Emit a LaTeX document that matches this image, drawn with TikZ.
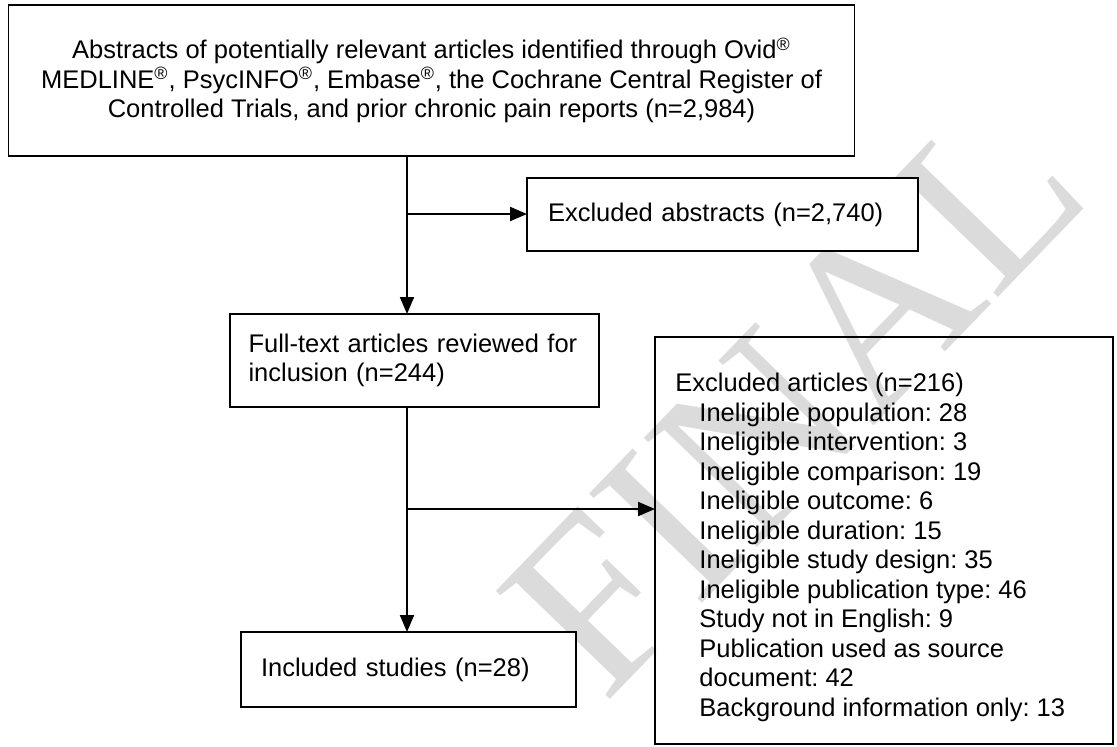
\documentclass[tikz,border=0pt]{standalone}
\usepackage{fontspec}
\setmainfont{Liberation Sans}
\newfontfamily\wmfont{Liberation Serif}
\usetikzlibrary{arrows.meta}
\frenchspacing
\begin{document}
\begin{tikzpicture}[x=0.5pt,y=-0.5pt,
  box/.style={draw=black,line width=0.9pt,fill=white,outer sep=0pt,inner ysep=0pt,
    font=\fontsize{12.75}{14.75}\selectfont},
  txt/.style={inner sep=0pt,align=left,font=\fontsize{12.75}{14.75}\selectfont},
  arr/.style={line width=1pt,-{Triangle[length=8.5pt,width=7pt]}},
  wmark/.style={rotate=46,anchor=base west,inner sep=0pt,text=black!14,
    font=\wmfont\fontsize{120}{120}\selectfont}]
\frenchspacing
\useasboundingbox (0,0) rectangle (1117,746);
\begin{scope}
  \clip (0,0) rectangle (1117,746);
  \node[wmark] (wm) at (604,706) {FINAL};
\end{scope}
% boxes
\node[box,align=center,minimum width=423pt,minimum height=75.5pt,inner xsep=0pt] (b1) at (431.5,80.5)
  {Abstracts of potentially relevant articles identified through Ovid\textsuperscript{®}\\
   MEDLINE\textsuperscript{®}, PsycINFO\textsuperscript{®}, Embase\textsuperscript{®}, the Cochrane Central Register of\\
   Controlled Trials, and prior chronic pain reports (n=2,984)};
\node[box,align=left,text width=174.5pt,inner xsep=10.5pt,minimum height=36.5pt] (b2) at (722.5,214.5)
  {Excluded abstracts (n=2,740)};
\node[box,align=left,text width=166pt,inner xsep=9.25pt,minimum height=46.5pt] (b3) at (414.5,360.5)
  {Full-text articles reviewed for\\inclusion (n=244)};
\node[box,align=left,text width=147.5pt,inner xsep=10pt,minimum height=37.5pt] (b4) at (408.5,669.5)
  {Included studies (n=28)};
\node[box,fill=none,minimum width=229pt,minimum height=203.5pt,inner sep=0pt] (b5) at (884,540.5) {};
\node[txt,anchor=west] (b5t) at ([xshift=10pt,yshift=-3.5pt]b5.west)
  {Excluded articles (n=216)\\
   \hspace*{12pt}Ineligible population: 28\\
   \hspace*{12pt}Ineligible intervention: 3\\
   \hspace*{12pt}Ineligible comparison: 19\\
   \hspace*{12pt}Ineligible outcome: 6\\
   \hspace*{12pt}Ineligible duration: 15\\
   \hspace*{12pt}Ineligible study design: 35\\
   \hspace*{12pt}Ineligible publication type: 46\\
   \hspace*{12pt}Study not in English: 9\\
   \hspace*{12pt}Publication used as source\\
   \hspace*{12pt}document: 42\\
   \hspace*{12pt}Background information only: 13};
% connectors
\coordinate (j1) at (407,214);
\coordinate (j2) at (407,509);
\draw[arr] (b1.south -| j1) -- (b3.north -| j1);
\draw[arr] (j1) -- (j1 -| b2.west);
\draw[arr] (b3.south -| j1) -- (b4.north -| j1);
\draw[arr] (j2) -- (j2 -| b5.west);
\end{tikzpicture}
\end{document}
